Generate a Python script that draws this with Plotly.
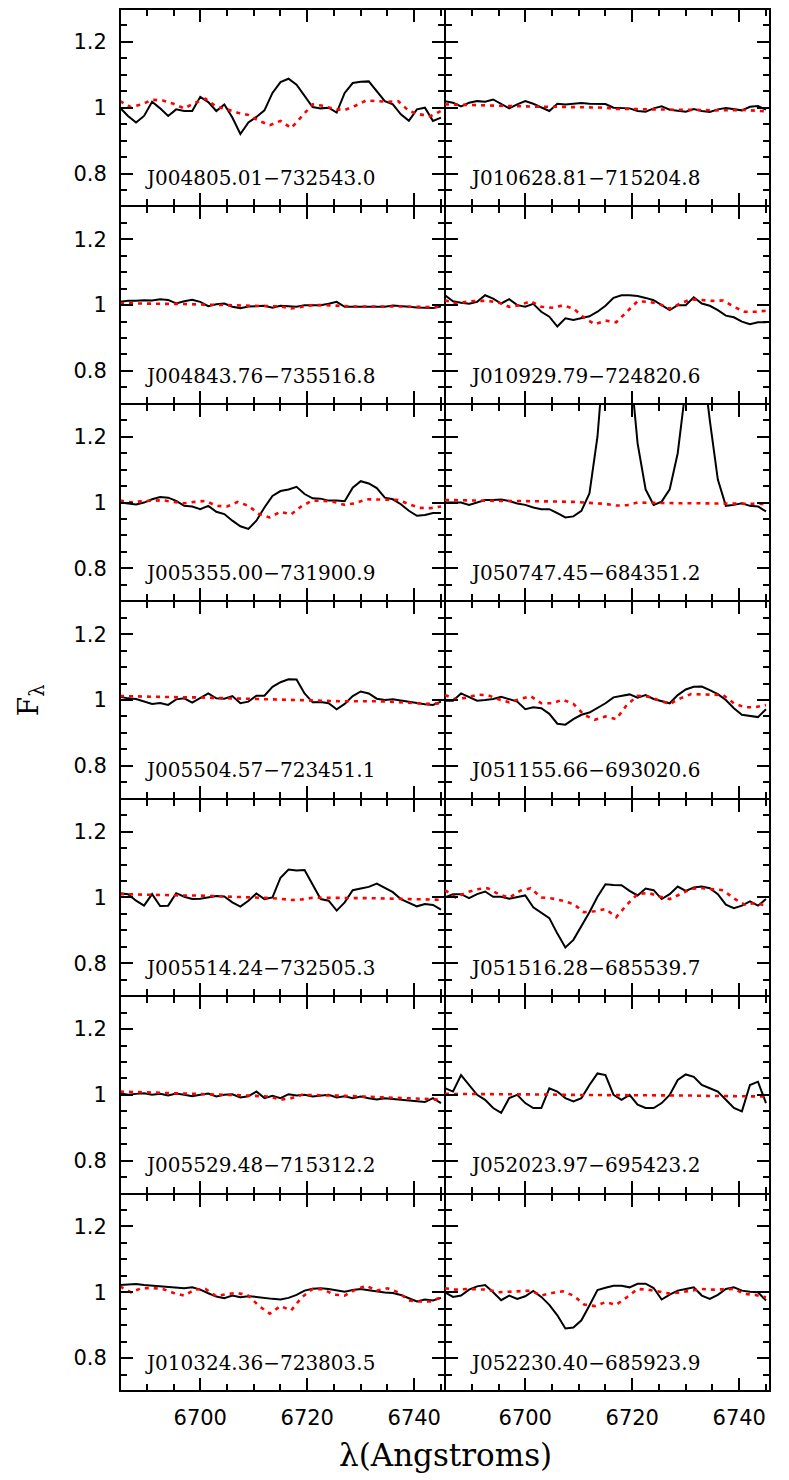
import plotly.graph_objects as go
from plotly.subplots import make_subplots

# wavelength grids (Angstroms)
wave_obs = [6685 + 1.5 * i for i in range(41)]
wave_mod = [6685 + 2 * i for i in range(31)]

names = [
    "J004805.01\u2212732543.0", "J010628.81\u2212715204.8",
    "J004843.76\u2212735516.8", "J010929.79\u2212724820.6",
    "J005355.00\u2212731900.9", "J050747.45\u2212684351.2",
    "J005504.57\u2212723451.1", "J051155.66\u2212693020.6",
    "J005514.24\u2212732505.3", "J051516.28\u2212685539.7",
    "J005529.48\u2212715312.2", "J052023.97\u2212695423.2",
    "J010324.36\u2212723803.5", "J052230.40\u2212685923.9",
]

# observed (black) and model (red dotted) normalised fluxes
obs_J004805 = [1.0, 0.975, 0.955, 0.975, 1.018, 0.998, 0.975, 0.995, 0.99, 0.99, 1.033, 1.017, 0.99, 1.01, 0.97, 0.92, 0.955, 0.972, 0.992, 1.045, 1.078, 1.088, 1.07, 1.035, 1.002, 0.998, 1.0, 0.985, 1.045, 1.075, 1.079, 1.08, 1.05, 1.02, 1.01, 0.98, 0.96, 0.995, 1.0, 0.96, 0.97]
mod_J004805 = [1.02, 1.002, 1.01, 1.024, 1.022, 1.012, 0.998, 1.015, 1.027, 1.003, 0.995, 0.985, 0.978, 0.96, 0.947, 0.96, 0.938, 0.975, 1.01, 1.006, 0.996, 0.993, 1.006, 1.022, 1.02, 1.018, 1.02, 0.99, 0.98, 0.974, 0.99]

obs_J010628 = [1.02, 1.015, 1.004, 1.015, 1.02, 1.018, 1.025, 1.012, 0.998, 1.01, 1.02, 1.012, 1.0, 0.99, 1.012, 1.01, 1.012, 1.014, 1.012, 1.011, 1.011, 1.0, 0.998, 0.998, 0.99, 0.988, 0.998, 1.004, 0.994, 0.991, 0.988, 0.996, 0.99, 0.987, 0.995, 0.999, 0.995, 0.992, 1.003, 1.005, 0.994]
mod_J010628 = [1.01, 1.009, 1.008, 1.008, 1.007, 1.006, 1.005, 1.005, 1.004, 1.003, 1.003, 1.002, 1.002, 1.0, 1.0, 1.0, 0.996, 0.997, 0.996, 0.995, 0.995, 0.993, 0.993, 0.993, 0.993, 0.992, 0.993, 0.992, 0.993, 0.991, 0.989]

obs_J004843 = [1.01, 1.013, 1.013, 1.015, 1.014, 1.018, 1.016, 1.005, 1.012, 1.016, 1.01, 0.997, 1.003, 1.005, 0.995, 0.991, 0.996, 0.997, 0.998, 0.992, 0.998, 0.997, 0.995, 1.0, 1.001, 1.0, 1.004, 1.01, 0.995, 0.995, 0.995, 0.994, 0.994, 0.995, 0.999, 0.998, 0.995, 0.993, 0.993, 0.991, 0.996]
mod_J004843 = [1.006, 1.005, 1.005, 1.004, 1.004, 1.004, 1.003, 1.003, 1.002, 1.002, 1.001, 1.0, 0.999, 0.997, 0.995, 0.996, 0.99, 0.996, 1.0, 1.0, 0.998, 0.996, 0.996, 0.996, 0.995, 0.996, 0.996, 0.995, 0.993, 0.994, 0.996]

obs_J010929 = [1.03, 1.012, 1.007, 1.004, 1.01, 1.03, 1.02, 1.005, 1.018, 1.0, 0.995, 1.004, 0.98, 0.965, 0.935, 0.96, 0.955, 0.96, 0.966, 0.98, 0.998, 1.022, 1.03, 1.03, 1.028, 1.022, 1.015, 1.0, 0.985, 1.0, 1.0, 1.024, 1.005, 0.998, 0.985, 0.968, 0.963, 0.95, 0.942, 0.948, 0.948]
mod_J010929 = [1.015, 1.005, 1.01, 1.013, 1.013, 1.008, 0.995, 1.0, 1.012, 0.995, 0.992, 0.999, 0.99, 0.962, 0.942, 0.953, 0.948, 0.98, 1.012, 1.01, 1.004, 0.989, 1.005, 1.018, 1.015, 1.013, 1.014, 0.995, 0.98, 0.98, 0.983]

obs_J005355 = [1.0, 0.998, 0.994, 1.0, 1.01, 1.017, 1.015, 1.005, 0.99, 0.988, 0.98, 0.99, 0.972, 0.965, 0.945, 0.928, 0.92, 0.945, 0.985, 1.02, 1.035, 1.04, 1.048, 1.026, 1.013, 1.012, 1.006, 1.006, 1.004, 1.045, 1.065, 1.058, 1.044, 1.015, 1.01, 0.995, 0.975, 0.96, 0.962, 0.968, 0.968]
mod_J005355 = [1.006, 1.001, 1.004, 1.006, 1.007, 1.002, 0.998, 1.002, 1.005, 0.99, 0.988, 1.002, 0.99, 0.965, 0.955, 0.972, 0.964, 0.99, 1.006, 1.005, 1.002, 0.993, 0.998, 1.01, 1.009, 1.008, 1.008, 0.995, 0.984, 0.983, 0.988]

obs_J050747 = [1.0, 1.0, 1.0, 0.993, 1.0, 1.008, 1.008, 1.009, 1.005, 0.997, 0.993, 0.985, 0.98, 0.98, 0.968, 0.955, 0.958, 0.975, 1.028, 1.2, 1.5, 1.7, 1.7, 1.45, 1.18, 1.04, 0.993, 1.003, 1.04, 1.15, 1.4, 1.55, 1.45, 1.25, 1.07, 0.99, 0.993, 0.998, 0.99, 0.988, 0.973]
mod_J050747 = [1.008, 1.007, 1.007, 1.006, 1.006, 1.005, 1.005, 1.005, 1.004, 1.004, 1.003, 1.003, 1.002, 1.0, 0.998, 0.996, 0.991, 0.992, 1.0, 0.999, 0.998, 0.998, 0.998, 0.998, 0.998, 0.998, 0.998, 0.997, 0.997, 0.996, 0.996]

obs_J005504 = [1.01, 1.005, 1.003, 0.995, 0.988, 0.991, 0.985, 1.002, 1.005, 0.992, 1.005, 1.02, 1.005, 1.004, 1.012, 0.99, 0.995, 1.013, 1.013, 1.04, 1.054, 1.063, 1.062, 1.02, 0.993, 0.994, 0.99, 0.972, 0.988, 1.012, 1.026, 1.02, 1.004, 1.0, 1.002, 0.998, 0.993, 0.989, 0.987, 0.985, 0.995]
mod_J005504 = [1.012, 1.011, 1.011, 1.01, 1.01, 1.009, 1.008, 1.008, 1.007, 1.006, 1.005, 1.004, 1.003, 1.002, 1.001, 1.0, 0.999, 0.998, 0.997, 0.997, 0.996, 0.996, 0.996, 0.997, 0.996, 0.995, 0.993, 0.991, 0.989, 0.988, 0.99]

obs_J051155 = [0.998, 0.998, 1.02, 1.008, 0.998, 1.0, 1.003, 1.01, 1.003, 0.995, 0.972, 0.978, 0.975, 0.958, 0.928, 0.925, 0.942, 0.955, 0.962, 0.975, 0.99, 1.008, 1.013, 1.017, 1.007, 1.015, 1.003, 0.997, 0.99, 1.015, 1.032, 1.04, 1.041, 1.03, 1.018, 1.0, 0.975, 0.955, 0.951, 0.948, 0.972]
mod_J051155 = [1.015, 1.002, 1.007, 1.016, 1.015, 1.002, 0.993, 1.003, 1.012, 0.99, 0.99, 1.001, 0.988, 0.955, 0.94, 0.95, 0.942, 0.985, 1.013, 1.01, 0.998, 0.988, 1.005, 1.018, 1.017, 1.016, 1.015, 0.99, 0.978, 0.978, 0.985]

obs_J005514 = [1.013, 1.01, 0.99, 0.975, 1.01, 0.974, 0.975, 1.013, 1.002, 0.995, 0.996, 1.0, 1.004, 1.003, 0.985, 0.972, 0.99, 1.012, 0.995, 1.0, 1.06, 1.085, 1.082, 1.083, 1.038, 0.995, 0.99, 0.96, 0.985, 1.022, 1.027, 1.032, 1.042, 1.03, 1.016, 0.995, 0.985, 0.973, 0.98, 0.977, 0.963]
mod_J005514 = [1.01, 1.009, 1.009, 1.008, 1.008, 1.007, 1.006, 1.006, 1.005, 1.004, 1.004, 1.003, 1.002, 1.0, 0.998, 0.996, 0.992, 0.994, 0.999, 0.999, 0.998, 0.998, 0.998, 0.998, 0.997, 0.996, 0.995, 0.994, 0.993, 0.993, 0.993]

obs_J051516 = [1.0, 1.01, 1.01, 0.998, 1.01, 1.018, 1.002, 1.002, 0.996, 1.0, 1.006, 0.97, 0.953, 0.937, 0.89, 0.848, 0.871, 0.912, 0.955, 1.002, 1.04, 1.038, 1.037, 1.02, 1.006, 1.027, 1.022, 0.995, 1.01, 1.033, 1.02, 1.03, 1.033, 1.028, 1.01, 0.978, 0.967, 0.975, 0.988, 0.975, 0.995]
mod_J051516 = [1.022, 1.0, 1.015, 1.025, 1.028, 1.01, 0.999, 1.02, 1.028, 1.0, 0.997, 0.99, 0.98, 0.955, 0.958, 0.965, 0.94, 0.978, 1.01, 1.014, 1.003, 0.995, 1.01, 1.026, 1.028, 1.026, 1.022, 0.997, 0.978, 0.983, 0.975]

obs_J005529 = [1.005, 1.0, 1.003, 1.005, 1.0, 1.003, 0.998, 1.004, 1.0, 0.996, 1.0, 1.004, 0.995, 1.0, 1.002, 0.992, 0.996, 1.01, 0.99, 0.997, 0.99, 1.002, 0.998, 1.0, 0.995, 0.998, 1.0, 0.992, 0.996, 0.99, 0.995, 0.99, 0.986, 0.99, 0.988, 0.985, 0.983, 0.98, 0.978, 0.99, 0.975]
mod_J005529 = [1.01, 1.009, 1.008, 1.008, 1.007, 1.006, 1.005, 1.004, 1.004, 1.003, 1.002, 1.0, 0.998, 0.996, 0.995, 0.985, 0.99, 1.0, 1.0, 0.999, 0.998, 0.997, 0.996, 0.995, 0.994, 0.993, 0.992, 0.99, 0.989, 0.987, 0.985]

obs_J052023 = [1.02, 1.01, 1.06, 1.03, 1.0, 0.985, 0.96, 0.945, 0.99, 1.0, 0.975, 0.96, 0.96, 1.02, 1.01, 0.99, 0.98, 0.99, 1.03, 1.065, 1.06, 1.0, 0.985, 1.0, 0.97, 0.96, 0.96, 0.975, 1.0, 1.045, 1.062, 1.055, 1.03, 1.02, 1.01, 0.985, 0.96, 0.95, 1.03, 1.04, 0.975]
mod_J052023 = [1.003, 1.003, 1.003, 1.002, 1.002, 1.002, 1.002, 1.001, 1.001, 1.001, 1.001, 1.0, 1.0, 1.0, 1.0, 1.0, 0.999, 0.999, 0.999, 0.999, 0.998, 0.998, 0.998, 0.998, 0.997, 0.997, 0.997, 0.996, 0.996, 0.996, 0.995]

obs_J010324 = [1.022, 1.024, 1.025, 1.022, 1.02, 1.017, 1.015, 1.012, 1.012, 1.015, 1.008, 0.997, 0.987, 0.982, 0.99, 0.985, 0.988, 0.986, 0.982, 0.98, 0.978, 0.983, 0.992, 1.005, 1.011, 1.012, 1.01, 1.006, 1.002, 1.007, 1.01, 1.006, 1.002, 0.999, 0.998, 0.992, 0.982, 0.972, 0.978, 0.975, 0.983]
mod_J010324 = [1.018, 1.0, 1.012, 1.013, 1.01, 0.998, 0.99, 1.008, 1.01, 0.988, 0.995, 0.998, 0.99, 0.958, 0.935, 0.958, 0.945, 0.985, 1.01, 1.009, 0.993, 0.99, 1.008, 1.02, 1.005, 1.012, 1.0, 0.975, 0.972, 0.972, 0.985]

obs_J052230 = [1.0, 0.986, 0.99, 1.008, 1.018, 1.022, 1.0, 0.976, 0.99, 0.98, 0.988, 1.004, 0.986, 0.962, 0.93, 0.89, 0.893, 0.915, 0.96, 1.007, 1.014, 1.02, 1.02, 1.015, 1.026, 1.026, 1.013, 0.978, 0.993, 1.005, 1.01, 1.015, 0.99, 0.98, 0.992, 1.01, 1.015, 1.005, 1.002, 1.0, 0.975]
mod_J052230 = [1.012, 1.008, 1.01, 1.01, 1.008, 1.0, 1.002, 1.005, 1.005, 0.99, 0.998, 1.003, 0.99, 0.963, 0.958, 0.97, 0.962, 0.985, 1.01, 1.008, 1.003, 0.996, 1.0, 1.005, 1.01, 1.008, 1.01, 1.01, 0.995, 0.992, 0.985]

obs_all = [obs_J004805, obs_J010628, obs_J004843, obs_J010929, obs_J005355, obs_J050747, obs_J005504,
           obs_J051155, obs_J005514, obs_J051516, obs_J005529, obs_J052023, obs_J010324, obs_J052230]
mod_all = [mod_J004805, mod_J010628, mod_J004843, mod_J010929, mod_J005355, mod_J050747, mod_J005504,
           mod_J051155, mod_J005514, mod_J051516, mod_J005529, mod_J052023, mod_J010324, mod_J052230]

fig = make_subplots(rows=7, cols=2, horizontal_spacing=0, vertical_spacing=0)

label_font = dict(family="DejaVu Serif", size=20, color="black")
tick_font = dict(family="DejaVu Sans", size=21, color="black")

for k in range(len(names)):
    r, c = k // 2 + 1, k % 2 + 1
    fig.add_trace(go.Scatter(x=wave_obs, y=obs_all[k], mode="lines",
                             line=dict(color="black", width=2)), row=r, col=c)
    fig.add_trace(go.Scatter(x=wave_mod, y=mod_all[k], mode="lines",
                             line=dict(color="red", width=2.6, dash="4px,5px")), row=r, col=c)
    fig.add_annotation(x=6689.3, y=0.786, text=names[k], showarrow=False,
                       xanchor="left", yanchor="middle", font=label_font, row=r, col=c)

# thin axis lines: neighbouring panels share a border, so two 1px lines make one 2px border
axis_common = dict(
    ticks="inside", ticklen=13, tickwidth=2, tickcolor="black",
    showline=True, linewidth=1, linecolor="black", mirror="ticks",
    showgrid=False, zeroline=False, tickfont=tick_font, ticklabelstandoff=8,
)
fig.update_xaxes(range=[6685, 6745.75], tickmode="linear", tick0=6700, dtick=20,
                 minor=dict(dtick=5, ticks="inside", ticklen=7, tickwidth=2, tickcolor="black"),
                 showticklabels=False, **axis_common)
fig.update_xaxes(showticklabels=True, row=7)
fig.update_yaxes(range=[0.7, 1.3], tickmode="linear", tick0=0.8, dtick=0.2,
                 minor=dict(dtick=0.05, ticks="inside", ticklen=7, tickwidth=2, tickcolor="black"),
                 showticklabels=False, **axis_common)
fig.update_yaxes(showticklabels=True, col=1)

# outer frame
fig.add_shape(type="rect", xref="paper", yref="paper", x0=0, x1=1, y0=0, y1=1,
              line=dict(color="black", width=2))

# axis titles
fig.add_annotation(xref="paper", yref="paper", x=-0.138, y=0.5, text="F<sub>\u03bb</sub>",
                   showarrow=False, textangle=-90, xanchor="center", yanchor="middle",
                   font=dict(family="DejaVu Serif", size=28, color="black"))
fig.add_annotation(xref="paper", yref="paper", x=0.5, y=-0.046, text="\u03bb(Angstroms)",
                   showarrow=False, xanchor="center", yanchor="middle",
                   font=dict(family="DejaVu Serif", size=31, color="black"))

fig.update_layout(
    width=789, height=1480,
    margin=dict(l=112, r=27, t=1, b=97),
    plot_bgcolor="white", paper_bgcolor="white",
    showlegend=False,
)

fig.write_html("out.html")
